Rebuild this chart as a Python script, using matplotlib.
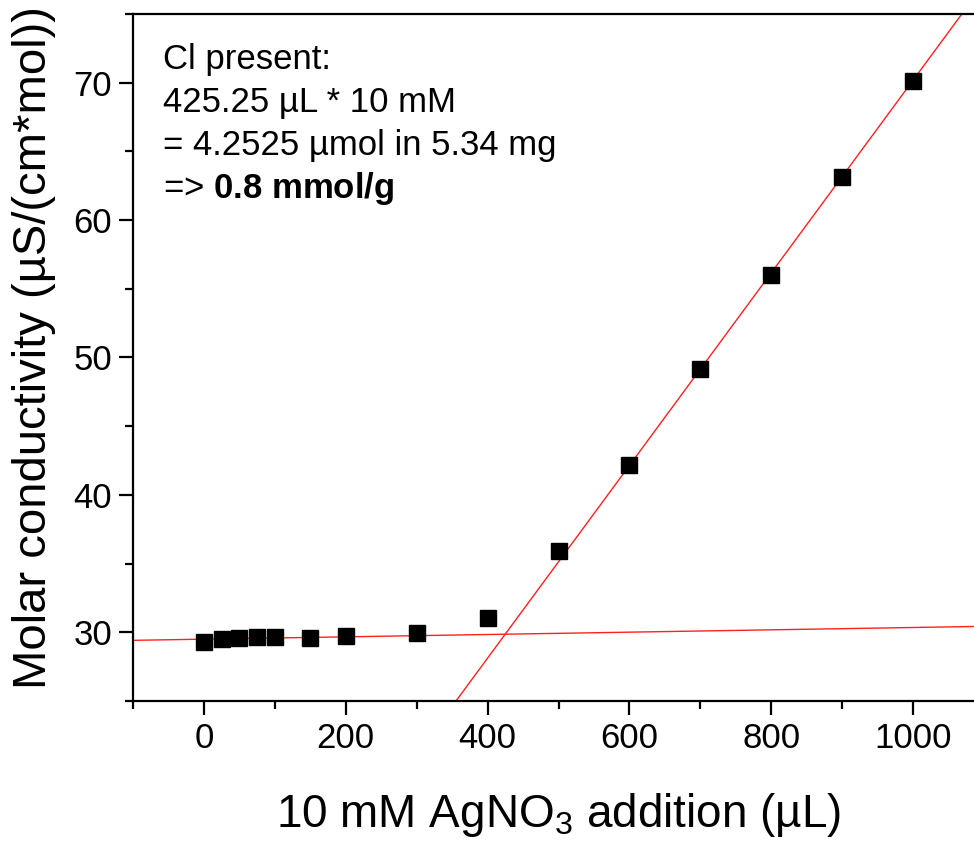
import numpy as np
import matplotlib
matplotlib.use('Agg')
import matplotlib.pyplot as plt
from matplotlib.ticker import MultipleLocator

plt.rcParams['font.family'] = ['Liberation Sans', 'DejaVu Sans']
plt.rcParams['mathtext.fontset'] = 'custom'
plt.rcParams['mathtext.rm'] = 'Liberation Sans'
plt.rcParams['mathtext.bf'] = 'Liberation Sans:bold'
plt.rcParams['mathtext.it'] = 'Liberation Sans:italic'

# titration data: AgNO3 volume (uL) vs molar conductivity
volume = [0, 25, 50, 75, 100, 150, 200, 300, 400, 500, 600, 700, 800, 900, 1000]
conductivity = [29.32, 29.53, 29.56, 29.64, 29.66, 29.62, 29.73, 29.96, 31.02,
                35.89, 42.17, 49.13, 56.02, 63.16, 70.15]

# linear fits (slope, intercept)
fit_before = (0.00085, 29.50)
fit_after = (0.0701, 0.08)

info_lines = ['Cl present:', '425.25 µL * 10 mM', '= 4.2525 µmol in 5.34 mg',
              r'=> $\mathbf{0.8\ mmol/g}$']

W, H = 974, 844
fig = plt.figure(figsize=(W / 100, H / 100), dpi=100)
ax = fig.add_axes([133 / W, (H - 701) / H, (984 - 133) / W, (701 - 14) / H])

for slope, icpt in (fit_before, fit_after):
    ax.axline((0, icpt), slope=slope, color='#ff2020', lw=1.0, zorder=1)

ax.plot(volume, conductivity, ls='none', marker='s', ms=11.5, color='black',
        mec='black', zorder=3)

ax.set_xlim(-100, 1100)
ax.set_ylim(25, 75)
ax.xaxis.set_major_locator(MultipleLocator(200))
ax.xaxis.set_minor_locator(MultipleLocator(100))
ax.yaxis.set_major_locator(MultipleLocator(10))
ax.yaxis.set_minor_locator(MultipleLocator(5))

for s in ax.spines.values():
    s.set_linewidth(1.6)
ax.spines['right'].set_visible(False)

ax.tick_params(which='major', direction='out', length=10, width=1.6,
               labelsize=25, pad=5)
ax.tick_params(which='minor', direction='out', length=6, width=1.6)
ax.tick_params(top=False, right=False, which='both')

ax.set_xlabel(r'10 mM AgNO$_3$ addition (µL)', fontsize=33, labelpad=26)
ax.set_ylabel('Molar conductivity (µS/(cm*mol))', fontsize=34)
ax.yaxis.set_label_coords(-0.09, 0.515)

for i, line in enumerate(info_lines):
    fig.text(163 / W, 1 - (69 + 43 * i) / H, line, fontsize=25,
             ha='left', va='baseline')

fig.savefig('out.png', dpi=100)
